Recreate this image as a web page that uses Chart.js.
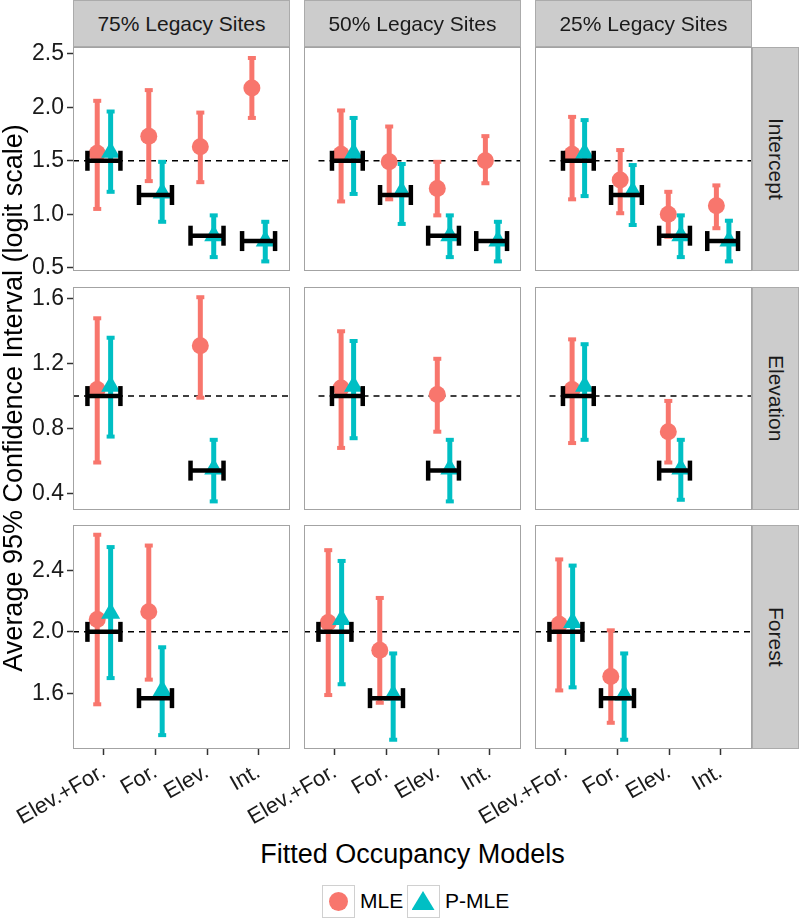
<!DOCTYPE html>
<html>
<head>
<meta charset="utf-8">
<script src="https://cdn.jsdelivr.net/npm/chart.js@4.4.1/dist/chart.umd.min.js"></script>
<style>
  body { margin: 0; background: #fff; font-family: 'Liberation Sans', Arial, sans-serif; }
  #wrap { position: relative; width: 800px; height: 920px; overflow: hidden; }
  canvas { position: absolute; }
  .strip { position: absolute; background: #cccccc; border: 1px solid #ababab; box-sizing: border-box;
           color: #1a1a1a; font-size: 21px; display: flex; align-items: center; justify-content: center; }
  .vert { writing-mode: vertical-rl; }
  .frame { position: absolute; border: 1px solid #a3a3a3; box-sizing: border-box; pointer-events: none; }
  .title { position: absolute; font-size: 27px; color: #000; text-align: center; white-space: nowrap; }
  .key { position: absolute; width: 33px; height: 33px; border: 1.5px solid #d0d0d0; box-sizing: border-box; }
  .dot { position: absolute; left: 5.5px; top: 5.5px; width: 19px; height: 19px; border-radius: 50%; background: #F8766D; }
  .tri { position: absolute; left: 3.5px; top: 5px; width: 23px; height: 19px; background: #00BFC4;
         clip-path: polygon(50% 0, 100% 100%, 0 100%); }
  .keytxt { position: absolute; font-size: 21px; color: #000; }
</style>
</head>
<body>
<div id="wrap"></div>
<script>
const models = ['Elev.+For.', 'For.', 'Elev.', 'Int.'];
const scenarios = ['75% Legacy Sites', '50% Legacy Sites', '25% Legacy Sites'];
const parameters = ['Intercept', 'Elevation', 'Forest'];

// true parameter value for each fitted model (black bars)
const trueIntercept = [1.50, 1.18, 0.80, 0.75];
const trueElevation = [1.00, null, 0.54, null];
const trueForest = [2.00, 1.57, null, null];
// dashed reference line per parameter
const referenceLine = [1.5, 1.0, 2.0];

// [low, estimate, high] per model; one row per scenario (75%, 50%, 25%)
const mleIntercept = [
  [[1.05, 1.57, 2.06], [1.31, 1.73, 2.16], [1.30, 1.63, 1.95], [1.90, 2.18, 2.46]],
  [[1.12, 1.56, 1.97], [1.14, 1.49, 1.82], [0.99, 1.24, 1.49], [1.29, 1.50, 1.73]],
  [[1.14, 1.56, 1.91], [1.01, 1.32, 1.60], [0.79, 1.00, 1.21], [0.87, 1.08, 1.27]]
];
const pmleIntercept = [
  [[1.21, 1.58, 1.96], [0.93, 1.20, 1.49], [0.60, 0.80, 0.99], [0.56, 0.75, 0.93]],
  [[1.19, 1.57, 1.90], [0.91, 1.21, 1.47], [0.60, 0.80, 0.99], [0.56, 0.75, 0.93]],
  [[1.17, 1.57, 1.88], [0.90, 1.21, 1.46], [0.60, 0.80, 0.99], [0.56, 0.75, 0.94]]
];
const mleElevation = [
  [[0.59, 1.04, 1.48], null, [0.99, 1.31, 1.61], null],
  [[0.68, 1.05, 1.40], null, [0.78, 1.01, 1.23], null],
  [[0.71, 1.04, 1.35], null, [0.59, 0.78, 0.97], null]
];
const pmleElevation = [
  [[0.75, 1.06, 1.36], null, [0.35, 0.55, 0.73], null],
  [[0.74, 1.06, 1.34], null, [0.35, 0.55, 0.73], null],
  [[0.73, 1.06, 1.32], null, [0.36, 0.55, 0.73], null]
];
const mleForest = [
  [[1.53, 2.08, 2.63], [1.69, 2.13, 2.56], null, null],
  [[1.59, 2.06, 2.53], [1.54, 1.88, 2.22], null, null],
  [[1.62, 2.05, 2.47], [1.41, 1.71, 2.01], null, null]
];
const pmleForest = [
  [[1.70, 2.12, 2.55], [1.33, 1.62, 1.90], null, null],
  [[1.66, 2.08, 2.46], [1.30, 1.59, 1.86], null, null],
  [[1.64, 2.06, 2.43], [1.30, 1.59, 1.86], null, null]
];

const yTicks = [[0.5, 1.0, 1.5, 2.0, 2.5], [0.4, 0.8, 1.2, 1.6], [1.6, 2.0, 2.4]];
const yRange = [[0.475, 2.558], [0.30, 1.67], [1.24, 2.69]];

const truth = [trueIntercept, trueElevation, trueForest];
const mle = [mleIntercept, mleElevation, mleForest];
const pmle = [pmleIntercept, pmleElevation, pmleForest];

const MLE_COL = '#F8766D', PMLE_COL = '#00BFC4';
const FONT = "'Liberation Sans', Arial, sans-serif";

// panel layout (px)
const colLeft = [73, 304, 535], panelW = 217;
const rowTop = [47, 287, 525], panelH = [224, 223, 224];
const PAD = 14, XAXIS_H = 85, YAXIS_W = 73;

const wrap = document.getElementById('wrap');

function add(cls, css, text, parent) {
  const d = document.createElement('div');
  d.className = cls;
  Object.assign(d.style, css);
  if (text) d.textContent = text;
  (parent || wrap).appendChild(d);
  return d;
}

function errorSegments(rows, shift) {
  const pts = [];
  rows.forEach((v, i) => {
    if (!v) return;
    pts.push({x: i + 1 + shift, y: v[0]}, {x: i + 1 + shift, y: v[2]}, {x: i + 1 + shift, y: null});
  });
  return pts;
}
function estimates(rows, shift) {
  return rows.map((v, i) => v ? {x: i + 1 + shift, y: v[1]} : null).filter(Boolean);
}
function truthSegments(vals) {
  const pts = [];
  vals.forEach((t, i) => {
    if (t == null) return;
    pts.push({x: i + 0.68, y: t}, {x: i + 1.32, y: t}, {x: i + 1.5, y: null});
  });
  return pts;
}

function makePanel(r, c) {
  const showY = c === 0, showX = r === 2;
  const padLeft = (showX && c > 0) ? 110 : 0;
  const left = c === 0 ? 0 : colLeft[c] - padLeft;
  const width = colLeft[c] + panelW - left + PAD;
  const top = rowTop[r] - PAD;
  const height = PAD + panelH[r] + (showX ? XAXIS_H : PAD);

  const cv = document.createElement('canvas');
  cv.width = width; cv.height = height;
  cv.style.left = left + 'px'; cv.style.top = top + 'px';
  wrap.appendChild(cv);

  const ref = referenceLine[r];
  const m = mle[r][c], p = pmle[r][c];

  new Chart(cv, {
    type: 'line',
    data: {
      datasets: [
        { // true value bars
          data: truthSegments(truth[r]),
          borderColor: '#000', borderWidth: 4.5,
          pointStyle: 'line', pointRotation: 90, pointRadius: 10,
          pointBorderColor: '#000', pointBorderWidth: 4.5
        },
        {
          data: estimates(p, 0.13), showLine: false,
          pointStyle: 'triangle', pointRadius: 11, pointBackgroundColor: PMLE_COL, pointBorderWidth: 0
        },
        {
          data: errorSegments(p, 0.13),
          borderColor: PMLE_COL, borderWidth: 5,
          pointStyle: 'line', pointRadius: 4, pointBorderColor: PMLE_COL, pointBorderWidth: 4
        },
        {
          data: estimates(m, -0.13), showLine: false,
          pointStyle: 'circle', pointRadius: 8.5, pointBackgroundColor: MLE_COL, pointBorderWidth: 0
        },
        {
          data: errorSegments(m, -0.13),
          borderColor: MLE_COL, borderWidth: 5,
          pointStyle: 'line', pointRadius: 4, pointBorderColor: MLE_COL, pointBorderWidth: 4
        },
        { // dashed reference
          data: [{x: 0.4, y: ref}, {x: 4.6, y: ref}],
          borderColor: '#000', borderWidth: 1.5, borderDash: [6, 5], pointRadius: 0
        }
      ]
    },
    options: {
      responsive: false, animation: false, devicePixelRatio: 1, events: [],
      clip: false,
      layout: {padding: {left: padLeft, top: PAD, right: PAD, bottom: showX ? 0 : PAD}},
      plugins: {legend: {display: false}, tooltip: {enabled: false}},
      scales: {
        x: {
          type: 'linear', min: 0.4, max: 4.6, display: showX,
          afterBuildTicks: s => { s.ticks = [1, 2, 3, 4].map(v => ({value: v})); },
          afterFit: s => { if (showX) { s.height = XAXIS_H; s.paddingLeft = 0; s.paddingRight = 0; } },
          ticks: {callback: v => models[v - 1], autoSkip: false, minRotation: 30, maxRotation: 30,
                  padding: 4, color: '#1a1a1a', font: {family: FONT, size: 22}},
          grid: {drawOnChartArea: false, tickLength: 6, tickColor: '#333', tickWidth: 1.5},
          border: {display: false}
        },
        y: {
          type: 'linear', min: yRange[r][0], max: yRange[r][1], display: showY,
          afterBuildTicks: s => { s.ticks = yTicks[r].map(v => ({value: v})); },
          afterFit: s => { if (showY) { s.width = YAXIS_W; s.paddingTop = 0; s.paddingBottom = 0; } },
          ticks: {callback: v => v.toFixed(1), padding: 3, color: '#1a1a1a', font: {family: FONT, size: 23}},
          grid: {drawOnChartArea: false, tickLength: 6, tickColor: '#333', tickWidth: 1.5},
          border: {display: false}
        }
      }
    }
  });

  add('frame', {left: colLeft[c] + 'px', top: rowTop[r] + 'px', width: panelW + 'px', height: panelH[r] + 'px'});
}

for (let r = 0; r < 3; r++) for (let c = 0; c < 3; c++) makePanel(r, c);

scenarios.forEach((s, c) => add('strip', {left: colLeft[c] + 'px', top: '0px', width: panelW + 'px', height: '47px'}, s));
parameters.forEach((p, r) => {
  const d = add('strip', {left: '752px', top: rowTop[r] + 'px', width: '47px', height: panelH[r] + 'px'});
  const t = document.createElement('span');
  t.className = 'vert'; t.textContent = p;
  d.appendChild(t);
});

add('title', {left: '73px', width: '679px', top: '839px'}, 'Fitted Occupancy Models');
add('title', {left: (14 - 350) + 'px', top: (398 - 16) + 'px', width: '700px', height: '32px',
              transform: 'rotate(-90deg)'}, 'Average 95% Confidence Interval (logit scale)');

// legend
const k1 = add('key', {left: '322px', top: '885px'});
add('dot', {}, '', k1);
add('keytxt', {left: '360px', top: '889px'}, 'MLE');
const k2 = add('key', {left: '407px', top: '885px'});
add('tri', {}, '', k2);
add('keytxt', {left: '445px', top: '889px'}, 'P-MLE');
</script>
</body>
</html>
